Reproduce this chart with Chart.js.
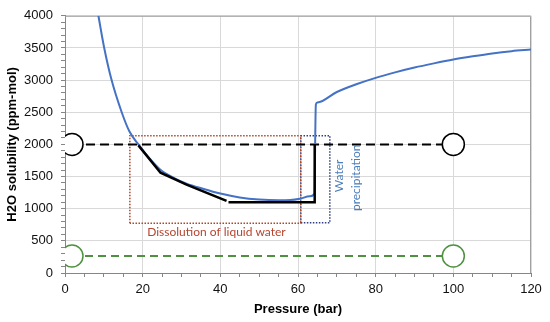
<!DOCTYPE html>
<html lang="en">

<head>
  <meta charset="UTF-8">
  <title>H2O solubility vs pressure</title>
  <style>
    body { margin: 0; background: #fff; }
    #wrap { width: 550px; height: 322px; }
  </style>
</head>

<body>
  <script src="https://cdn.jsdelivr.net/npm/chart.js"></script>

  <div id="wrap"><canvas id="solChart"></canvas></div>
  <script>
    // curva azul (solubilidad)
    const bluePressure = [8.6, 10.1, 12.0, 14.6, 16.6, 18.9, 21.5, 24.5, 28, 31.3, 35.5, 40, 45, 50, 55, 58, 60.5, 63, 64.2, 64.6, 65, 70, 75, 80, 85, 90, 95, 100, 105, 110, 115, 120];
    const blueH2O = [4000, 3500, 3000, 2500, 2200, 2000, 1800, 1610, 1480, 1390, 1310, 1235, 1175, 1143, 1132, 1135, 1155, 1192, 1230, 2620, 2650, 2815, 2935, 3035, 3120, 3195, 3260, 3320, 3370, 3415, 3450, 3475];

    // linea negra (null = hueco)
    const blackPressure = [18.9, 24.6, 31.3, 41.6, 41.9, 42.1, 64.3, 64.3];
    const blackH2O = [1985, 1560, 1375, 1121, null, 1101, 1101, 2005];

    // lineas punteadas con circulos
    const refPressure = [1.8, 100];
    const refBlack = [2000, 2000];
    const refGreen = [265, 265];

    // recuadros
    const dissolBoxP = [16.7, 16.7, 60.7, 60.7, 16.7];
    const dissolBoxH2O = [772, 2136, 2136, 772, 772];
    const precipBoxP = [60.7, 60.7, 68.2, 68.2, 60.7];
    const precipBoxH2O = [780, 2136, 2136, 780, 780];

    const xTickStep = 20;
    const yTickStep = 500;

    const pts = (xs, ys) => xs.map((x, i) => ({ x: x, y: ys[i] }));

    const labelsPlugin = {
      id: 'labels',
      beforeDatasetsDraw(chart) {
        const { ctx, chartArea } = chart;
        ctx.save();
        ctx.strokeStyle = '#a0a0a0';
        ctx.lineWidth = 1;
        ctx.beginPath();
        ctx.moveTo(chartArea.left, chartArea.top + 0.5);
        ctx.lineTo(chartArea.right - 0.5, chartArea.top + 0.5);
        ctx.lineTo(chartArea.right - 0.5, chartArea.bottom);
        ctx.stroke();
        ctx.restore();
      },
      afterDatasetsDraw(chart) {
        const { ctx } = chart;
        const xs = chart.scales.x, ys = chart.scales.y;
        ctx.save();
        ctx.font = '12px Lato';
        ctx.textAlign = 'center';
        ctx.textBaseline = 'middle';
        ctx.fillStyle = '#b5452f';
        ctx.fillText('Dissolution of liquid water', xs.getPixelForValue(39), ys.getPixelForValue(640));

        ctx.fillStyle = '#4a7ebb';
        ctx.translate(xs.getPixelForValue(70.6), ys.getPixelForValue(1510));
        ctx.rotate(-Math.PI / 2);
        ctx.fillText('Water', 0, 0);
        ctx.restore();

        ctx.save();
        ctx.font = '12px Lato';
        ctx.textAlign = 'center';
        ctx.textBaseline = 'middle';
        ctx.fillStyle = '#4a7ebb';
        ctx.translate(xs.getPixelForValue(74.9), ys.getPixelForValue(1480));
        ctx.rotate(-Math.PI / 2);
        ctx.fillText('precipitation', 0, 0);
        ctx.restore();
      }
    };

    const ctx = document.getElementById('solChart').getContext('2d');
    const solChart = new Chart(ctx, {
      type: 'scatter',
      data: {
        datasets: [
          {
            data: pts(refPressure, refBlack),
            showLine: false,
            pointRadius: 11,
            pointBorderWidth: 1.5,
            pointBorderColor: '#000',
            pointBackgroundColor: '#fff'
          },
          {
            data: pts(refPressure, refGreen),
            showLine: false,
            pointRadius: 11,
            pointBorderWidth: 1.5,
            pointBorderColor: '#4f9140',
            pointBackgroundColor: '#fff'
          },
          {
            data: pts(blackPressure, blackH2O),
            showLine: true,
            borderColor: '#000',
            borderWidth: 2.5,
            pointRadius: 0,
            spanGaps: false
          },
          {
            data: pts(bluePressure, blueH2O),
            showLine: true,
            borderColor: '#4472c4',
            borderWidth: 2,
            pointRadius: 0,
            cubicInterpolationMode: 'monotone'
          },
          {
            data: pts(refPressure, refBlack),
            showLine: true,
            borderColor: '#000',
            borderWidth: 2,
            borderDash: [9, 5],
            pointRadius: 0
          },
          {
            data: pts(refPressure, refGreen),
            showLine: true,
            borderColor: '#4f9140',
            borderWidth: 2,
            borderDash: [8, 5],
            pointRadius: 0
          },
          {
            data: pts(dissolBoxP, dissolBoxH2O),
            showLine: true,
            borderColor: '#a8482c',
            borderWidth: 1.5,
            borderDash: [1.5, 1.5],
            pointRadius: 0
          },
          {
            data: pts(precipBoxP, precipBoxH2O),
            showLine: true,
            borderColor: '#2e3f86',
            borderWidth: 1.5,
            borderDash: [1.5, 1.5],
            pointRadius: 0
          }
        ]
      },
      options: {
        responsive: true,
        maintainAspectRatio: false,
        animation: false,
        layout: { padding: { top: 14, right: 19, left: 0, bottom: 0 } },
        plugins: {
          legend: { display: false },
          tooltip: { enabled: false }
        },
        scales: {
          x: {
            type: 'linear',
            min: 0,
            max: 120,
            afterFit: s => { s.height = 49; },
            border: { color: '#868686' },
            grid: {
              color: c => (c.tick && c.tick.value % xTickStep === 0) ? '#d9d9d9' : 'rgba(0,0,0,0)',
              tickColor: '#868686',
              tickLength: 4
            },
            ticks: {
              stepSize: 5,
              autoSkip: false,
              maxRotation: 0,
              padding: 5,
              color: '#111',
              font: { family: 'Liberation Sans', size: 13 },
              callback: v => (v % xTickStep === 0 ? v : '')
            },
            title: {
              display: true,
              text: 'Pressure (bar)',
              color: '#000',
              font: { family: 'Liberation Sans', size: 13, weight: 'bold' },
              padding: { top: 0, bottom: 5 }
            }
          },
          y: {
            min: 0,
            max: 4000,
            afterFit: s => { s.width = 65; },
            border: { color: '#868686' },
            grid: {
              color: c => (c.tick && c.tick.value % yTickStep === 0) ? '#d9d9d9' : 'rgba(0,0,0,0)',
              tickColor: '#868686',
              tickLength: 4
            },
            ticks: {
              stepSize: 100,
              autoSkip: false,
              padding: 8,
              color: '#111',
              font: { family: 'Liberation Sans', size: 13 },
              callback: v => (v % yTickStep === 0 ? v : '')
            },
            title: {
              display: true,
              text: 'H2O solubility (ppm-mol)',
              color: '#000',
              font: { family: 'Liberation Sans', size: 13, weight: 'bold' },
              padding: { top: 5, bottom: 0 }
            }
          }
        }
      },
      plugins: [labelsPlugin]
    });
  </script>
</body>

</html>
